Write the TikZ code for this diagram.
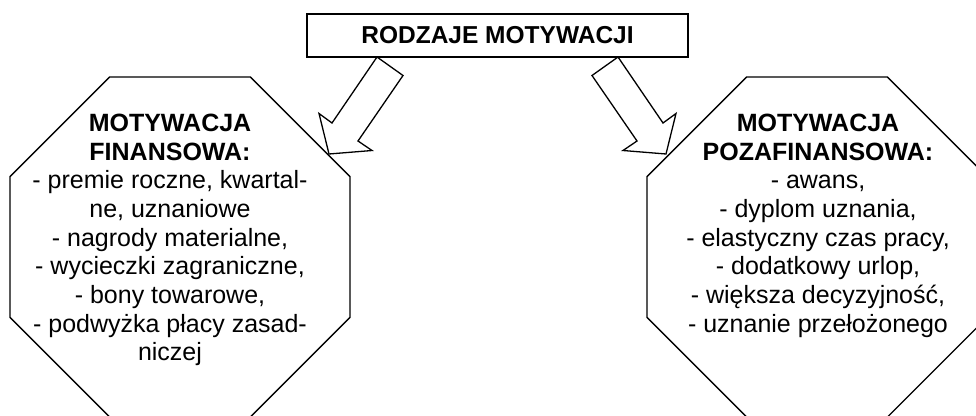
\documentclass[tikz,border=0pt]{standalone}
\usepackage{fontspec}
\setmainfont{Liberation Sans}
\begin{document}
\begin{tikzpicture}[x=1pt,y=-1pt,
  txt/.style={font=\fontsize{25}{28.7}\selectfont, align=center, inner sep=0pt},
  titlebox/.style={draw, line width=1.8pt, minimum width=381pt, minimum height=43pt,
    inner sep=0pt, font=\fontsize{24.5}{28}\selectfont\bfseries},
  outline/.style={draw, line width=1.3pt, line join=miter},
  blockarrow/.style={draw, line width=1.3pt, line join=miter}]
  \useasboundingbox (0,0) rectangle (976,415);
  \clip (0,0) rectangle (976,415);

  % title box
  \node[titlebox] (title) at (497.5,35.5) {RODZAJE MOTYWACJI};

  % octagon centres
  \coordinate (finC) at (180,247);
  \coordinate (pozC) at (817,247);

  % octagons (apothem 170, half side 70.4)
  \foreach \c in {finC,pozC}{
    \draw[outline, shift={(\c)}]
      (-70.4,-170) -- (70.4,-170) -- (170,-70.4) -- (170,70.4) --
      (70.4,170) -- (-70.4,170) -- (-170,70.4) -- (-170,-70.4) -- cycle;
  }

  % block arrows from the title box to the two octagons
  \draw[blockarrow] (377,57) -- (403,75.5) -- (358,141) -- (372,150.5) --
    (329,154) -- (319,113.5) -- (332,123) -- cycle;
  \draw[blockarrow] (618,57) -- (592,75.5) -- (637,141) -- (623,150.5) --
    (666,154) -- (676,113.5) -- (663,123) -- cycle;

  % texts
  \node[txt, anchor=north] (fin) at (170,113.7) {\textbf{MOTYWACJA}\\
    \textbf{FINANSOWA:}\\
    - premie roczne, kwartal-\\
    ne, uznaniowe\\
    - nagrody materialne,\\
    - wycieczki zagraniczne,\\
    - bony towarowe,\\
    - podwyżka płacy zasad-\\
    niczej};
  \node[txt, anchor=north] (poz) at (818,113.7) {\textbf{MOTYWACJA}\\
    \textbf{POZAFINANSOWA:}\\
    - awans,\\
    - dyplom uznania,\\
    - elastyczny czas pracy,\\
    - dodatkowy urlop,\\
    - większa decyzyjność,\\
    - uznanie przełożonego};
\end{tikzpicture}
\end{document}
